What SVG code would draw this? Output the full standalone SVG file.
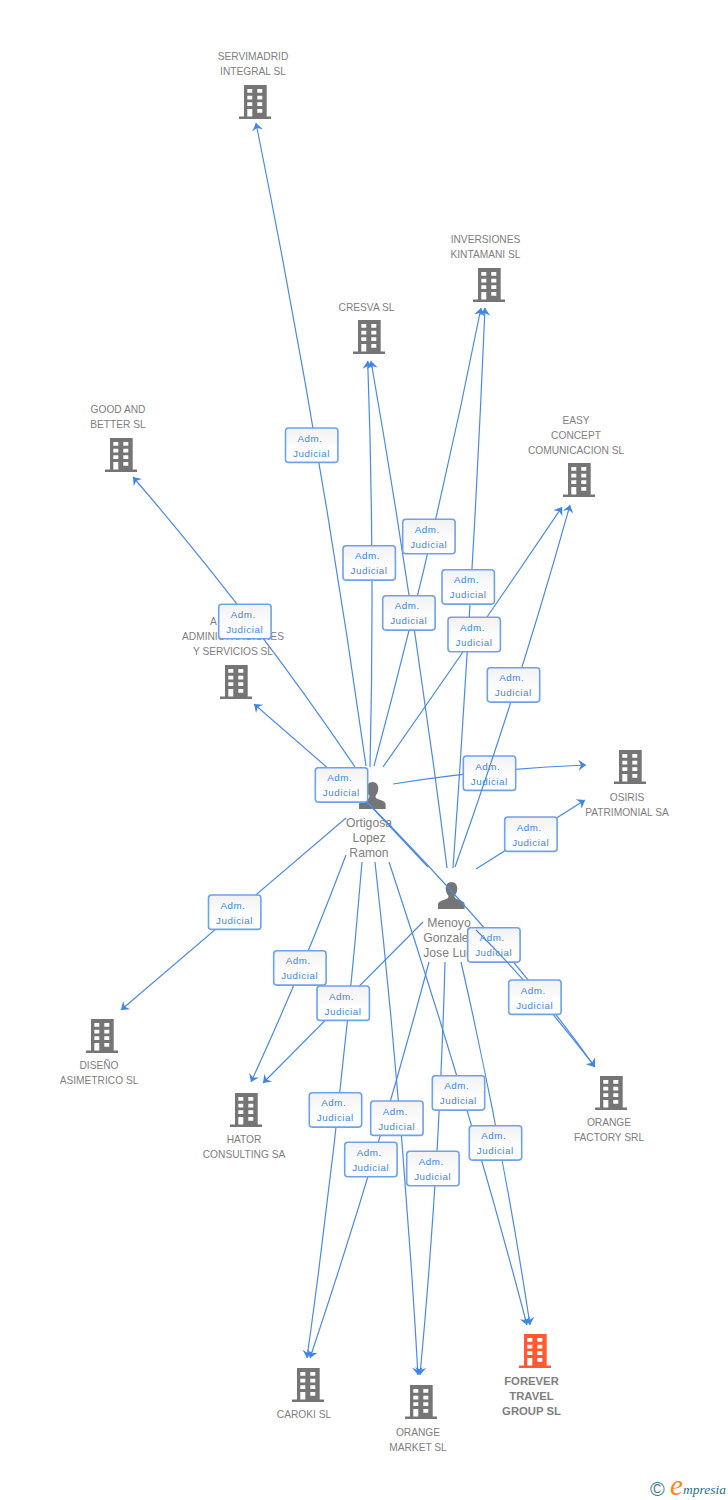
<svg xmlns="http://www.w3.org/2000/svg" xmlns:xlink="http://www.w3.org/1999/xlink" width="728" height="1500" viewBox="0 0 728 1500">
<style>
text{font-family:"Liberation Sans",Arial,sans-serif}
.n{font-size:10.2px;fill:#808080;text-anchor:middle}
.p{font-size:12.2px;fill:#808080;text-anchor:middle}
.m{font-size:11.3px;fill:#808080;text-anchor:middle;font-weight:bold}
.e{fill:none;stroke:#4a8ae6;stroke-width:1.2;marker-end:url(#a)}
.s{fill:none;stroke:#4a8ae6;stroke-width:1.2}
.b{fill:url(#g);stroke:#6ea2ea;stroke-width:1.6}
.t{font-size:9.8px;fill:#3f86e6;letter-spacing:.55px;text-anchor:middle}
</style>
<defs>
<linearGradient id="g" x1="0" y1="0" x2="0" y2="1"><stop offset="0" stop-color="#f2f2f2"/><stop offset=".7" stop-color="#fff"/></linearGradient>
<marker id="a" viewBox="-8 -6 8 12" refX="0" refY="0" markerWidth="8" markerHeight="12" markerUnits="userSpaceOnUse" orient="auto"><path d="M0,0L-7.5,-5.5L-5,0L-7.5,5.5Z" fill="#3f86e6"/></marker>
<symbol id="bld" width="32" height="34" viewBox="0 0 32 34"><path fill-rule="evenodd" d="M5,0H27.7V31.5H32V34H0V31.5H5ZM8.3,4V7.7H13.3V4ZM18.3,4V7.7H23.3V4ZM8.3,10.7V14.4H13.3V10.7ZM18.3,10.7V14.4H23.3V10.7ZM8.3,17.3V21H13.3V17.3ZM18.3,17.3V21H23.3V17.3ZM8.3,24V31.5H13.3V24ZM18.3,24V27.7H23.3V24Z"/></symbol>
<symbol id="per" width="27" height="27" viewBox="0 0 27 27"><path d="M13.5,0C17,0 19.3,2.8 19.3,6.5C19.3,10 17.7,12.5 16.6,13.8C16.4,15.5 17,16.4 18.8,17.1C22,18.3 26.2,19.3 26.6,22V27H0V22C.8,19.3 5,18.3 8.2,17.1C10,16.4 10.6,15.5 10.4,13.8C9.3,12.5 7.7,10 7.7,6.5C7.7,2.8 10,0 13.5,0Z"/></symbol>
</defs>
<rect width="728" height="1500" fill="#fff"/>
<g id="nodes" fill="#757575">
<g id="servimadrid"><use href="#bld" x="239" y="85"/><text class="n" x="253" y="60">SERVIMADRID</text><text class="n" x="253" y="75">INTEGRAL SL</text></g>
<g id="inversiones"><use href="#bld" x="473" y="268"/><text class="n" x="485.5" y="243">INVERSIONES</text><text class="n" x="485.5" y="258">KINTAMANI SL</text></g>
<g id="cresva"><use href="#bld" x="353" y="320"/><text class="n" x="366.5" y="311">CRESVA SL</text></g>
<g id="easy"><use href="#bld" x="563" y="463"/><text class="n" x="576" y="424">EASY</text><text class="n" x="576" y="439">CONCEPT</text><text class="n" x="576" y="454">COMUNICACION SL</text></g>
<g id="goodbetter"><use href="#bld" x="105" y="438"/><text class="n" x="118" y="413">GOOD AND</text><text class="n" x="118" y="428">BETTER SL</text></g>
<g id="administraciones"><use href="#bld" x="220" y="665"/><text class="n" x="213.5" y="625">A</text><text class="n" x="233" y="640">ADMINISTRACIONES</text><text class="n" x="233" y="655">Y SERVICIOS SL</text></g>
<g id="osiris"><use href="#bld" x="614" y="750"/><text class="n" x="627" y="801">OSIRIS</text><text class="n" x="627" y="816">PATRIMONIAL SA</text></g>
<g id="diseno"><use href="#bld" x="86" y="1019"/><text class="n" x="99" y="1069">DISEÑO</text><text class="n" x="99" y="1084">ASIMETRICO SL</text></g>
<g id="hator"><use href="#bld" x="230" y="1093"/><text class="n" x="244" y="1143">HATOR</text><text class="n" x="244" y="1158">CONSULTING SA</text></g>
<g id="orangefactory"><use href="#bld" x="595" y="1076"/><text class="n" x="609" y="1126">ORANGE</text><text class="n" x="609" y="1141">FACTORY SRL</text></g>
<g id="caroki"><use href="#bld" x="292" y="1368"/><text class="n" x="304" y="1418">CAROKI SL</text></g>
<g id="orangemarket"><use href="#bld" x="405" y="1385"/><text class="n" x="418" y="1436">ORANGE</text><text class="n" x="418" y="1451">MARKET SL</text></g>
<g id="forever"><use href="#bld" x="519" y="1334" fill="#ff5a33"/><text class="m" x="531.5" y="1385">FOREVER</text><text class="m" x="531.5" y="1400">TRAVEL</text><text class="m" x="531.5" y="1415">GROUP SL</text></g>
<g id="ortigosa"><use href="#per" x="359" y="782"/><text class="p" x="369" y="827">Ortigosa</text><text class="p" x="369" y="842">Lopez</text><text class="p" x="369" y="857">Ramon</text></g>
<g id="menoyo"><use href="#per" x="438" y="882"/><text class="p" x="449" y="927">Menoyo</text><text class="p" x="449" y="942">Gonzalez</text><text class="p" x="449" y="957">Jose Luis</text></g>
</g>
<g id="connectors">
<path class="e" d="M366,766Q320,439.5 256,123"/>
<path class="e" d="M355,767Q256,620 133,477"/>
<path class="e" d="M345,783L254,704"/>
<path class="e" d="M370,767Q375,564 367.7,361"/>
<path class="e" d="M374,766Q435.5,537 481,308"/>
<path class="e" d="M447,868Q415,613.5 371,361"/>
<path class="e" d="M453,868Q473,588 485,308"/>
<path class="e" d="M383,767Q475.5,635 562,507"/>
<path class="e" d="M393,784Q489.5,768.5 586,765"/>
<path class="e" d="M476,869L585,800"/>
<path class="s" d="M367,802L428,867"/>
<path class="e" d="M367,802Q508,945 595,1067"/>
<path class="e" d="M346,818L121,1010"/>
<path class="e" d="M346,855Q303.5,968 251,1082"/>
<path class="e" d="M423,922L263,1083"/>
<path class="e" d="M362,862Q341.5,1110 307,1358"/>
<path class="e" d="M429,962Q376.5,1160 310,1358"/>
<path class="e" d="M375,862Q403.5,1118 418,1375"/>
<path class="e" d="M445,962Q439.5,1168 420,1375"/>
<path class="e" d="M389,862Q466,1093 527,1325"/>
<path class="e" d="M461,962Q502.5,1143 530,1325"/>
<g transform="translate(285.5,428)"><rect class="b" width="52.4" height="34.4" rx="3"/><text class="t" x="24.5" y="13.5">Adm.</text><text class="t" x="26" y="28.5">Judicial</text></g>
<g transform="translate(218.7,604.3)"><rect class="b" width="52.4" height="34.4" rx="3"/><text class="t" x="24.5" y="13.5">Adm.</text><text class="t" x="26" y="28.5">Judicial</text></g>
<g transform="translate(315.3,767.7)"><rect class="b" width="52.4" height="34.4" rx="3"/><text class="t" x="24.5" y="13.5">Adm.</text><text class="t" x="26" y="28.5">Judicial</text></g>
<g transform="translate(343,545.7)"><rect class="b" width="52.4" height="34.4" rx="3"/><text class="t" x="24.5" y="13.5">Adm.</text><text class="t" x="26" y="28.5">Judicial</text></g>
<g transform="translate(402.7,519.3)"><rect class="b" width="52.4" height="34.4" rx="3"/><text class="t" x="24.5" y="13.5">Adm.</text><text class="t" x="26" y="28.5">Judicial</text></g>
<g transform="translate(382.7,595.7)"><rect class="b" width="52.4" height="34.4" rx="3"/><text class="t" x="24.5" y="13.5">Adm.</text><text class="t" x="26" y="28.5">Judicial</text></g>
<g transform="translate(442,569.7)"><rect class="b" width="52.4" height="34.4" rx="3"/><text class="t" x="24.5" y="13.5">Adm.</text><text class="t" x="26" y="28.5">Judicial</text></g>
<g transform="translate(448,617.3)"><rect class="b" width="52.4" height="34.4" rx="3"/><text class="t" x="24.5" y="13.5">Adm.</text><text class="t" x="26" y="28.5">Judicial</text></g>
<g transform="translate(463.3,756)"><rect class="b" width="52.4" height="34.4" rx="3"/><text class="t" x="24.5" y="13.5">Adm.</text><text class="t" x="26" y="28.5">Judicial</text></g>
<g transform="translate(504.7,817)"><rect class="b" width="52.4" height="34.4" rx="3"/><text class="t" x="24.5" y="13.5">Adm.</text><text class="t" x="26" y="28.5">Judicial</text></g>
<g transform="translate(467.7,927.7)"><rect class="b" width="52.4" height="34.4" rx="3"/><text class="t" x="24.5" y="13.5">Adm.</text><text class="t" x="26" y="28.5">Judicial</text></g>
<g transform="translate(208.5,895)"><rect class="b" width="52.4" height="34.4" rx="3"/><text class="t" x="24.5" y="13.5">Adm.</text><text class="t" x="26" y="28.5">Judicial</text></g>
<g transform="translate(273.7,950.7)"><rect class="b" width="52.4" height="34.4" rx="3"/><text class="t" x="24.5" y="13.5">Adm.</text><text class="t" x="26" y="28.5">Judicial</text></g>
<g transform="translate(317,986)"><rect class="b" width="52.4" height="34.4" rx="3"/><text class="t" x="24.5" y="13.5">Adm.</text><text class="t" x="26" y="28.5">Judicial</text></g>
<g transform="translate(309.3,1092.7)"><rect class="b" width="52.4" height="34.4" rx="3"/><text class="t" x="24.5" y="13.5">Adm.</text><text class="t" x="26" y="28.5">Judicial</text></g>
<g transform="translate(370.7,1101)"><rect class="b" width="52.4" height="34.4" rx="3"/><text class="t" x="24.5" y="13.5">Adm.</text><text class="t" x="26" y="28.5">Judicial</text></g>
<g transform="translate(344.7,1142.3)"><rect class="b" width="52.4" height="34.4" rx="3"/><text class="t" x="24.5" y="13.5">Adm.</text><text class="t" x="26" y="28.5">Judicial</text></g>
<g transform="translate(432.3,1075.7)"><rect class="b" width="52.4" height="34.4" rx="3"/><text class="t" x="24.5" y="13.5">Adm.</text><text class="t" x="26" y="28.5">Judicial</text></g>
<g transform="translate(406.7,1151.3)"><rect class="b" width="52.4" height="34.4" rx="3"/><text class="t" x="24.5" y="13.5">Adm.</text><text class="t" x="26" y="28.5">Judicial</text></g>
<g transform="translate(469.3,1125.7)"><rect class="b" width="52.4" height="34.4" rx="3"/><text class="t" x="24.5" y="13.5">Adm.</text><text class="t" x="26" y="28.5">Judicial</text></g>
<path class="e" d="M455,867Q519.5,686 570,505"/>
<path class="e" d="M476,930Q532,985 595,1067"/>
<g transform="translate(487.3,667.7)"><rect class="b" width="52.4" height="34.4" rx="3"/><text class="t" x="24.5" y="13.5">Adm.</text><text class="t" x="26" y="28.5">Judicial</text></g>
<g transform="translate(508.7,980)"><rect class="b" width="52.4" height="34.4" rx="3"/><text class="t" x="24.5" y="13.5">Adm.</text><text class="t" x="26" y="28.5">Judicial</text></g>
</g>
<g id="logo">
<text x="650" y="1495.5" font-size="20" fill="#3f7f96">©</text>
<text x="670" y="1495" font-size="29" font-style="italic" fill="#f58a1f" style="font-family:'Liberation Serif',serif">e</text>
<text x="683" y="1494" font-size="13.5" font-style="italic" fill="#1f7085" style="font-family:'Liberation Serif',serif">mpresia</text>
</g>
</svg>
